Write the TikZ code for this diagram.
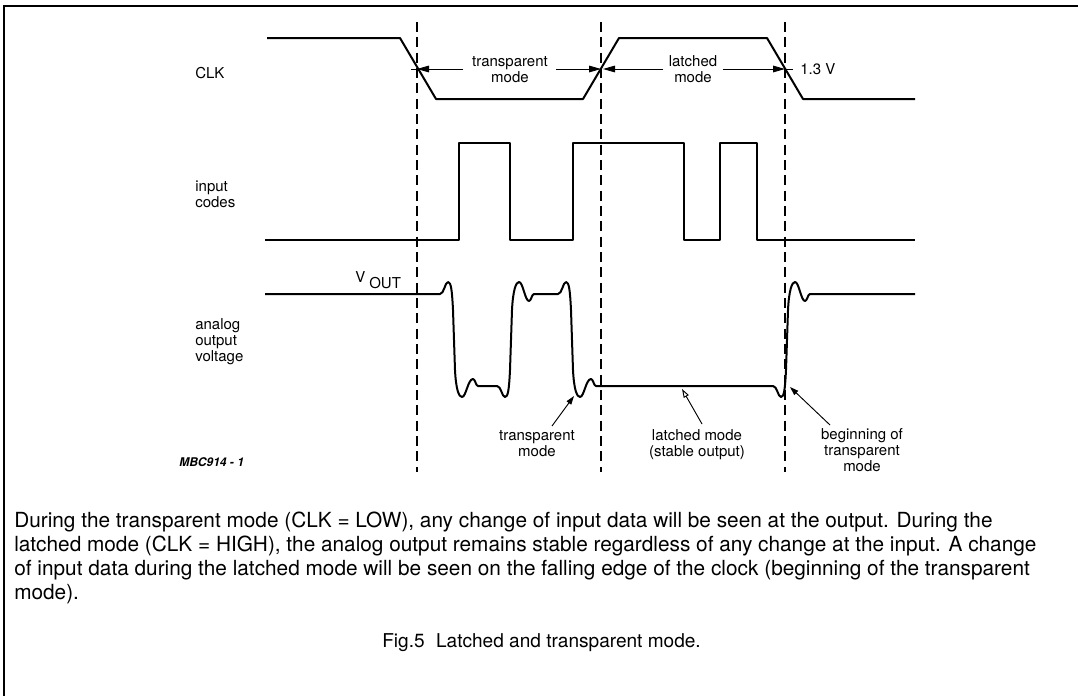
\documentclass[tikz,border=0pt]{standalone}
\usepackage{fontspec}
\setmainfont{TeX Gyre Heros}
\usetikzlibrary{arrows.meta}
\begin{document}
\begin{tikzpicture}[x=0.75pt,y=-0.75pt,
  wave/.style={line width=1.5pt,line join=round},
  guide/.style={line width=0.8pt,dash pattern=on 7.5pt off 4pt},
  dimarr/.style={line width=0.7pt,-{Triangle[length=9pt,width=5pt]}},
  callout/.style={line width=0.7pt,-{Triangle[length=6.5pt,width=4.2pt]}},
  calloutopen/.style={line width=0.7pt,-{Triangle[open,length=6.5pt,width=4.2pt]}},
  lab/.style={font=\fontsize{11.25pt}{12pt}\selectfont,inner sep=0pt},
  body/.style={font=\fontsize{15.6pt}{18pt}\selectfont,inner sep=0pt,anchor=base west}]
\useasboundingbox (0,0) rectangle (1078,696);
% frame
\draw[line width=1.4pt] (1078,6) -- (4,6) -- (4,696);
% guide lines
\coordinate (g1t) at (417,22); \coordinate (g1b) at (417,472);
\coordinate (g2t) at (601,22); \coordinate (g2b) at (601,472);
\coordinate (g3t) at (785,22); \coordinate (g3b) at (785,472);
\draw[guide] (g1t) -- (g1b);
\draw[guide] (g2t) -- (g2b);
\draw[guide] (g3t) -- (g3b);
% signal labels (base = baseline of last line)
\node[lab,anchor=base west] (clk) at (195,78) {CLK};
\node[lab,anchor=base west,align=left] (inp) at (195,207) {input\\codes};
\node[lab,anchor=base west,align=left] (ana) at (195,361) {analog\\output\\voltage};
% CLK waveform
\draw[wave] (267,38) -- (400,38) -- (436,99) -- (583,99) -- (619,38) -- (767,38) -- (803,99) -- (915,99);
% mode dimension arrows
\coordinate (x1) at (417,69); \coordinate (x2) at (601,69); \coordinate (x3) at (785,69);
\node[lab,align=center,anchor=base] (tm) at (510,82) {transparent\\mode};
\node[lab,align=center,anchor=base] (lm) at (693,82) {latched\\mode};
\coordinate (tmL) at (463,69); \coordinate (tmR) at (556,69);
\coordinate (lmL) at (663,69); \coordinate (lmR) at (723,69);
\coordinate (lmT) at (603,69); \coordinate (tk1) at (411,69); \coordinate (tk3) at (793,69);
\draw[dimarr] (tmL) -- (x1);
\draw[dimarr] (tmR) -- (x2);
\draw[dimarr] (lmL) -- (lmT);
\draw[dimarr] (lmR) -- (x3);
\draw[line width=0.7pt] (tk1) -- (x1);
\draw[line width=0.7pt] (x3) -- (tk3);
\node[lab,anchor=base west] (v13) at (800,74) {1.3 V};
% input codes
\draw[wave,line width=1.3pt] (265,240) -- (459,240) -- (459,143) -- (510,143) -- (510,240) -- (573,240) -- (573,143) -- (684,143) -- (684,240) -- (720,240) -- (720,143) -- (757,143) -- (757,240) -- (915,240);
% analog output
\draw[wave] (265,294) -- (440,294)
 .. controls (444,294) and (445,282) .. (448,282)
 .. controls (451,282) and (452,290) .. (453,310)
 -- (455,370)
 .. controls (456,390) and (459,397) .. (462,397)
 .. controls (466,397) and (468,379) .. (473,379)
 .. controls (475,379) and (476,386) .. (478,386)
 -- (497,386)
 .. controls (501,386) and (502,397) .. (505,397)
 .. controls (508,397) and (509,390) .. (510,370)
 -- (512,310)
 .. controls (513,290) and (516,282) .. (519,282)
 .. controls (523,282) and (525,301) .. (529,301)
 .. controls (531,301) and (532,294) .. (534,294)
 -- (558,294)
 .. controls (562,294) and (563,282) .. (566,282)
 .. controls (569,282) and (570,290) .. (571,310)
 -- (573,370)
 .. controls (574,390) and (577,397) .. (580,397)
 .. controls (584,397) and (586,379) .. (591,379)
 .. controls (593,379) and (594,386) .. (596,386)
 -- (773,386)
 .. controls (777,386) and (778,397) .. (781,397)
 .. controls (784,397) and (785,390) .. (786,370)
 -- (788,310)
 .. controls (789,290) and (792,282) .. (795,282)
 .. controls (799,282) and (801,301) .. (805,301)
 .. controls (807,301) and (808,294) .. (810,294)
 -- (915,294);
\node[lab,anchor=base west] (vout) at (355,282) {V};
\node[lab,anchor=base west] (voutsub) at (369,288) {OUT};
% callouts
\node[lab,align=center,anchor=base] (ctm) at (537,456) {transparent\\mode};
\node[lab,align=center,anchor=base] (clm) at (697,456) {latched mode\\(stable output)};
\node[lab,align=center,anchor=base] (cbm) at (862,471) {beginning of\\transparent\\mode};
\coordinate (ptm) at (574,396); \coordinate (plm) at (682,389); \coordinate (pbm) at (790,387);
\coordinate (ttm) at (552,426); \coordinate (tlm) at (702,424); \coordinate (tbm) at (830,425);
\draw[callout] (ttm) -- (ptm);
\draw[calloutopen] (tlm) -- (plm);
\draw[callout] (tbm) -- (pbm);
\node[font=\fontsize{9pt}{10pt}\selectfont\itshape\bfseries,inner sep=0pt,anchor=base west] (mbc) at (179,466) {MBC914 - 1};
% body text
\node[body] (b1) at (14,527) {During the transparent mode (CLK = LOW), any change of input data will be seen at the output. During the};
\node[body] (b2) at (14,551) {latched mode (CLK = HIGH), the analog output remains stable regardless of any change at the input. A change};
\node[body] (b3) at (14,575) {of input data during the latched mode will be seen on the falling edge of the clock (beginning of the transparent};
\node[body] (b4) at (14,599) {mode).};
\node[body,font=\fontsize{14.3pt}{17pt}\selectfont] (cap) at (382,647) {Fig.5\hspace{0.6em}Latched and transparent mode.};
\end{tikzpicture}
\end{document}
